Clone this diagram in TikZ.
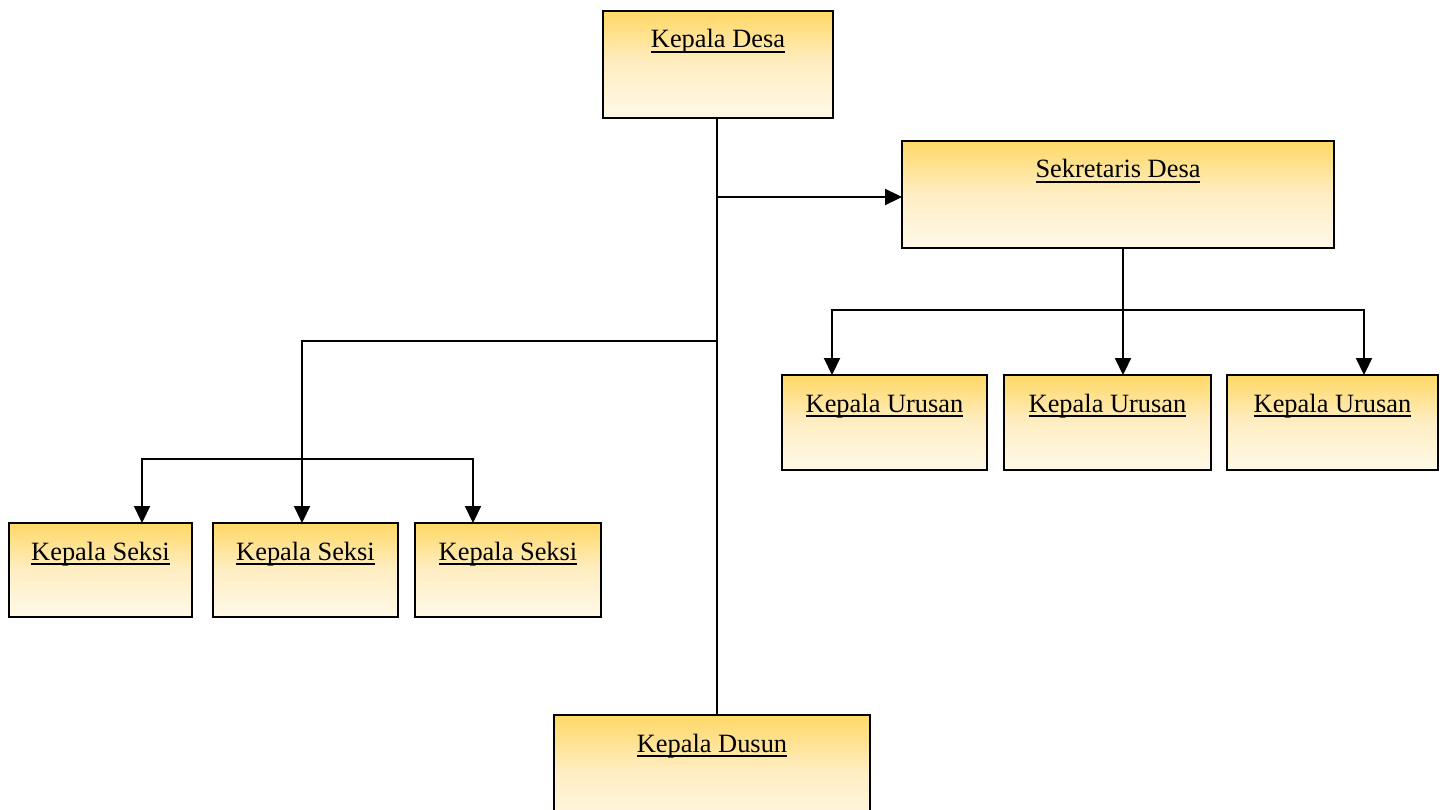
\documentclass[tikz,border=0pt]{standalone}
\usepackage{fontspec}
\setmainfont{Liberation Serif}
\usetikzlibrary{arrows.meta,calc}
\definecolor{gtop}{RGB}{255,216,102}
\definecolor{gmid}{RGB}{255,238,196}
\definecolor{gbot}{RGB}{255,249,232}
\newcommand\ulbox[1]{\setbox0\hbox{#1}\rlap{\rule[-5pt]{\wd0}{2pt}}\box0}
\tikzset{
  orgbox/.style={draw=black, line width=2pt, rectangle, anchor=north west, outer sep=0pt, inner sep=0pt,
    top color=gtop, bottom color=gbot, middle color=gmid},
  lbl/.style={anchor=base, inner sep=0pt, font=\fontsize{26.4}{30}\selectfont},
  conn/.style={line width=2.2pt, line cap=rect},
  arr/.style={line width=2.2pt, -{Triangle[length=17pt,width=16pt]}},
  arrb/.style={line width=2.2pt, {Triangle[length=17pt,width=16pt]}-{Triangle[length=17pt,width=16pt]}}
}
\begin{document}
\begin{tikzpicture}[x=1pt,y=-1pt]
\clip (0,0) rectangle (1446,810);
\fill[white] (0,0) rectangle (1446,810);
% boxes
\node[orgbox, minimum width=230pt, minimum height=107pt] (kd) at (603,11) {};
\node[orgbox, minimum width=432pt, minimum height=107pt] (sd) at (902,141) {};
\node[orgbox, minimum width=205pt, minimum height=95pt] (ku1) at (782,375) {};
\node[orgbox, minimum width=207pt, minimum height=95pt] (ku2) at (1004,375) {};
\node[orgbox, minimum width=211pt, minimum height=95pt] (ku3) at (1227,375) {};
\node[orgbox, minimum width=183pt, minimum height=94pt] (ks1) at (9,523) {};
\node[orgbox, minimum width=185pt, minimum height=94pt] (ks2) at (213,523) {};
\node[orgbox, minimum width=186pt, minimum height=94pt] (ks3) at (415,523) {};
\node[orgbox, minimum width=316pt, minimum height=115pt] (kdu) at (554,715) {};
% labels
\node[lbl] (kdt) at ($(kd.north)+(0,37)$) {\ulbox{Kepala Desa}};
\node[lbl] (sdt) at ($(sd.north)+(0,37)$) {\ulbox{Sekretaris Desa}};
\node[lbl] (ku1t) at ($(ku1.north)+(0,37)$) {\ulbox{Kepala Urusan}};
\node[lbl] (ku2t) at ($(ku2.north)+(0,37)$) {\ulbox{Kepala Urusan}};
\node[lbl] (ku3t) at ($(ku3.north)+(0,37)$) {\ulbox{Kepala Urusan}};
\node[lbl] (ks1t) at ($(ks1.north)+(0,37)$) {\ulbox{Kepala Seksi}};
\node[lbl] (ks2t) at ($(ks2.north)+(0,37)$) {\ulbox{Kepala Seksi}};
\node[lbl] (ks3t) at ($(ks3.north)+(0,37)$) {\ulbox{Kepala Seksi}};
\node[lbl] (kdut) at ($(kdu.north)+(0,37)$) {\ulbox{Kepala Dusun}};
% junction coordinates
\coordinate (jsd) at (717,197);
\coordinate (jks) at (717,341);
\coordinate (mks) at (302,341);
\coordinate (lks) at (142,459);
\coordinate (rks) at (473,459);
\coordinate (msd) at (1123,310);
\coordinate (lku) at (832,310);
\coordinate (rku) at (1364,310);
% connectors
\draw[conn] (kd.south -| jsd) -- (kdu.north -| jsd);
\draw[arr] (jsd) -- (jsd -| sd.west);
\draw[conn] (jks) -- (mks);
\draw[arr] (mks) -- (mks |- ks2.north);
\draw[arrb] (lks |- ks1.north) -- (lks) -- (rks) -- (rks |- ks3.north);
\draw[arr] (msd |- sd.south) -- (msd |- ku2.north);
\draw[arrb] (lku |- ku1.north) -- (lku) -- (rku) -- (rku |- ku3.north);
\end{tikzpicture}
\end{document}
